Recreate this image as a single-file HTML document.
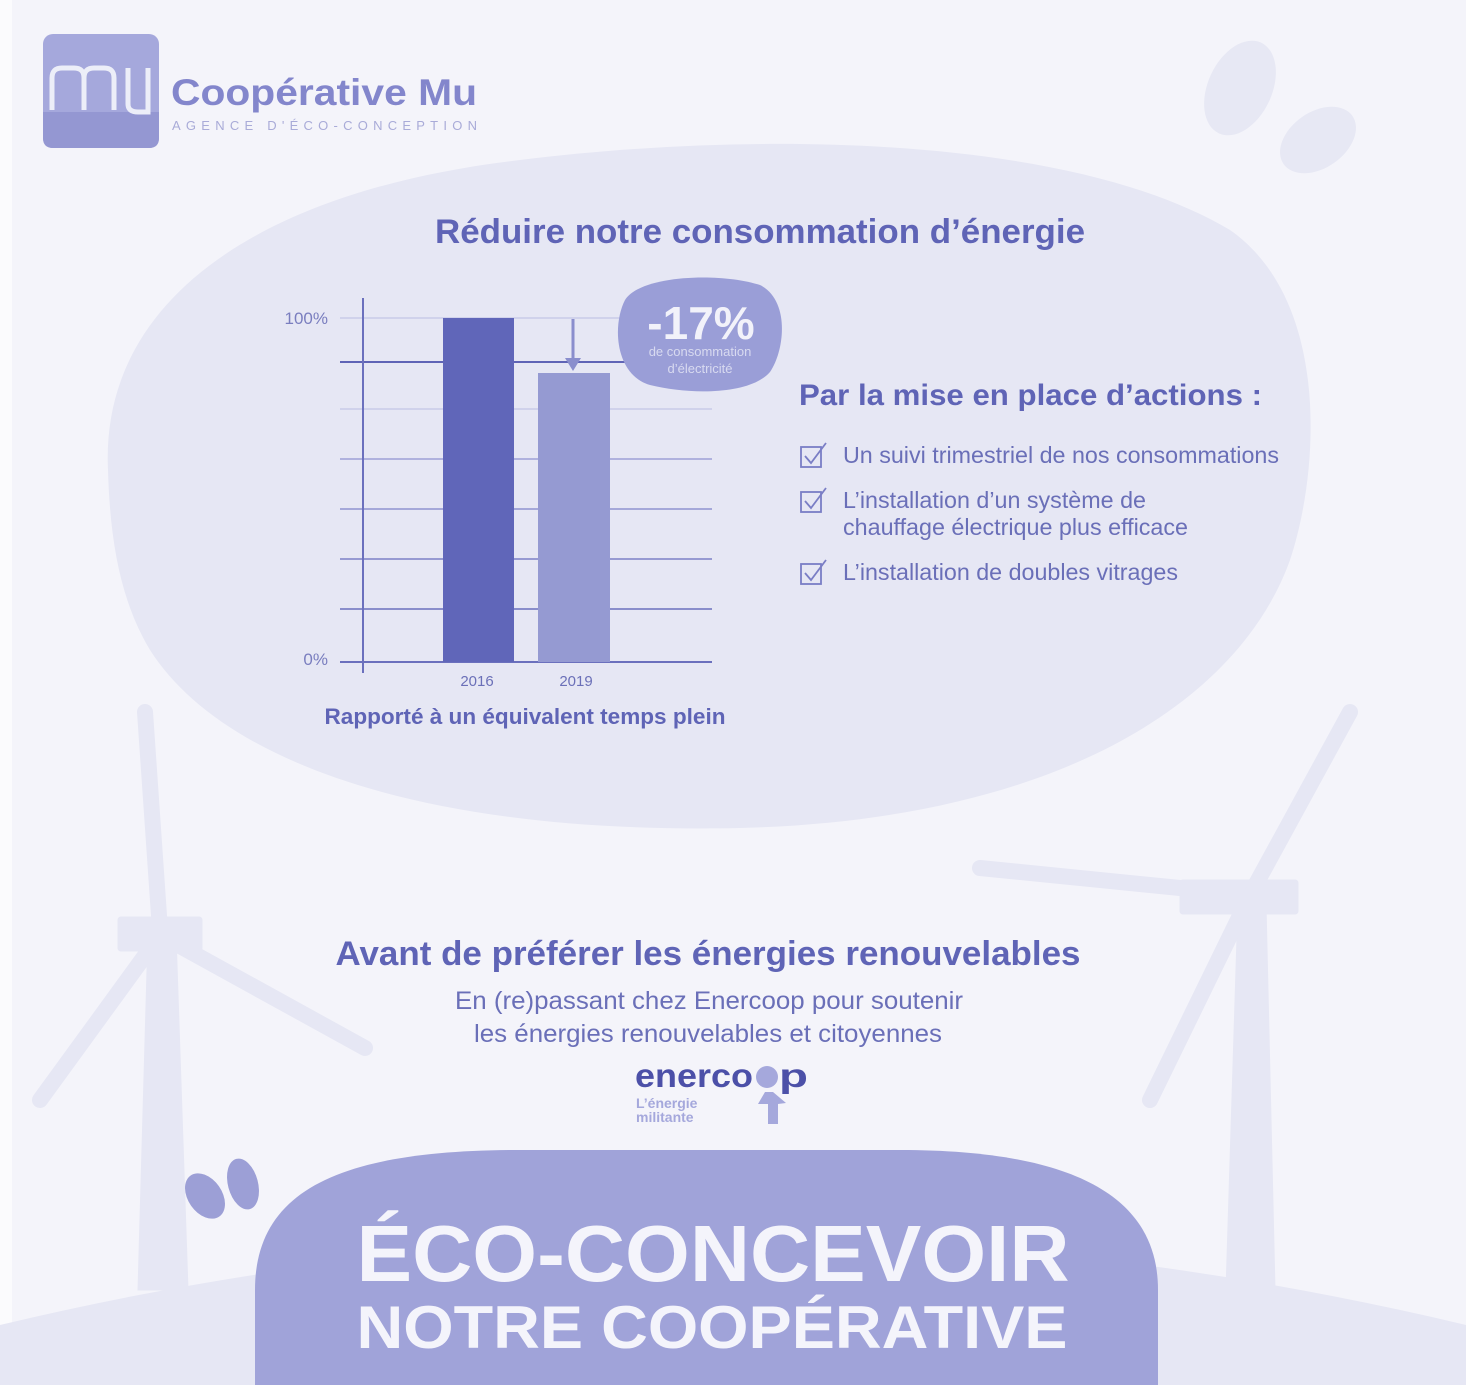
<!DOCTYPE html>
<html><head><meta charset="utf-8"><style>
html,body{margin:0;padding:0;background:#f4f4fa;overflow:hidden;width:1466px;height:1385px;}
svg{display:block;font-family:"Liberation Sans",Arial,sans-serif;}
</style></head><body>
<svg width="1466" height="1385" viewBox="0 0 1466 1385" xmlns="http://www.w3.org/2000/svg">
<rect width="1466" height="1385" fill="#f4f4fa"/>
<rect x="0" y="0" width="12" height="1385" fill="#fbfbfd"/>
<ellipse cx="1240" cy="88" rx="32" ry="50" transform="rotate(25 1240 88)" fill="#e7e8f4"/>
<ellipse cx="1318" cy="140" rx="28" ry="42" transform="rotate(55 1318 140)" fill="#e7e8f4"/>
<g fill="#e6e7f4" stroke="#e6e7f4" stroke-linecap="round">
<polygon points="148,935 176,935 188,1290 138,1290"/>
<rect x="118" y="917" width="84" height="34" rx="3"/>
<line x1="160" y1="930" x2="145" y2="712" stroke-width="16"/>
<line x1="160" y1="935" x2="40" y2="1100" stroke-width="16"/>
<line x1="160" y1="935" x2="365" y2="1048" stroke-width="16"/>
<polygon points="1238,905 1266,905 1275,1290 1226,1290"/>
<rect x="1180" y="880" width="118" height="34" rx="3"/>
<line x1="1250" y1="895" x2="1350" y2="712" stroke-width="16"/>
<line x1="1250" y1="895" x2="980" y2="868" stroke-width="16"/>
<line x1="1250" y1="895" x2="1150" y2="1100" stroke-width="16"/>
</g>
<path d="M0,1325 Q733,1150 1466,1325 L1466,1385 L0,1385 Z" fill="#e6e7f4"/>
<path d="M108,470 C100,300 260,190 520,160 C780,128 1080,140 1230,230 C1330,300 1320,470 1290,560 C1240,700 1060,820 740,828 C420,835 220,760 150,650 C120,600 110,540 108,470 Z" fill="#e6e7f4"/>
<rect x="43" y="34" width="116" height="114" rx="10" fill="#a5a8dc"/>
<path d="M43,112 L159,112 L159,138 Q159,148 149,148 L53,148 Q43,148 43,138 Z" fill="#9497d2"/>
<path d="M52,110 L52,78 Q52,68 62,68 L74,68 Q84,68 84,78 L84,110 M84,78 Q84,68 94,68 L104,68 Q114,68 114,78 L114,110 M128,68 L128,104 Q128,112 138,112 L148,112 L148,68" fill="none" stroke="#eceef8" stroke-width="5"/>
<text x="171" y="105" font-size="37" font-weight="bold" fill="#8386cc" textLength="306" lengthAdjust="spacingAndGlyphs">Coopérative Mu</text>
<text x="172" y="130" font-size="13" fill="#a9abd8" textLength="305" lengthAdjust="spacing">AGENCE D'ÉCO-CONCEPTION</text>
<text x="760" y="243" font-size="34" font-weight="bold" fill="#5f64b6" text-anchor="middle" textLength="650" lengthAdjust="spacingAndGlyphs">Réduire notre consommation d’énergie</text>
<g stroke-width="1.5">
<line x1="340" y1="318" x2="712" y2="318" stroke="#c9cbe8"/>
<line x1="340" y1="362" x2="712" y2="362" stroke="#5f64b6" stroke-width="2"/>
<line x1="340" y1="409" x2="712" y2="409" stroke="#c9cbe8"/>
<line x1="340" y1="459" x2="712" y2="459" stroke="#9da0d6"/>
<line x1="340" y1="509" x2="712" y2="509" stroke="#8f93d0"/>
<line x1="340" y1="559" x2="712" y2="559" stroke="#7d81c7"/>
<line x1="340" y1="609" x2="712" y2="609" stroke="#6b70bd"/>
<line x1="340" y1="662" x2="712" y2="662" stroke="#6b70bd" stroke-width="2"/>
<line x1="363" y1="298" x2="363" y2="673" stroke="#6b70bd" stroke-width="2"/>
</g>
<rect x="443" y="318" width="71" height="344" fill="#6066b9"/>
<rect x="538" y="373" width="72" height="289" fill="#959ad2"/>
<line x1="573" y1="319" x2="573" y2="360" stroke="#8a8ecd" stroke-width="3"/>
<polygon points="565,358 581,358 573,371" fill="#8a8ecd"/>
<text x="328" y="324" font-size="17" fill="#7a7ebf" text-anchor="end">100%</text>
<text x="328" y="665" font-size="17" fill="#7a7ebf" text-anchor="end">0%</text>
<text x="477" y="686" font-size="15" fill="#6b70b8" text-anchor="middle">2016</text>
<text x="576" y="686" font-size="15" fill="#6b70b8" text-anchor="middle">2019</text>
<text x="525" y="724" font-size="22" font-weight="bold" fill="#5f64b6" text-anchor="middle" textLength="401" lengthAdjust="spacingAndGlyphs">Rapporté à un équivalent temps plein</text>
<path d="M625,300 C640,275 720,272 760,285 C790,300 785,350 770,372 C750,395 690,395 650,385 C615,375 612,325 625,300 Z" fill="#9a9ed7"/>
<text x="701" y="339" font-size="46" font-weight="bold" fill="#f2f2fa" text-anchor="middle">-17%</text>
<text x="700" y="356" font-size="13" fill="#d8daf0" text-anchor="middle">de consommation</text>
<text x="700" y="373" font-size="13" fill="#d8daf0" text-anchor="middle">d’électricité</text>
<text x="799" y="405" font-size="30" font-weight="bold" fill="#5f64b6" textLength="463" lengthAdjust="spacingAndGlyphs">Par la mise en place d’actions :</text>
<g fill="none" stroke="#7a7ec5" stroke-width="1.8">
<rect x="801" y="447" width="20" height="20"/><path d="M805,456 L811,463 L826,443"/>
<rect x="801" y="492" width="20" height="20"/><path d="M805,501 L811,508 L826,488"/>
<rect x="801" y="564" width="20" height="20"/><path d="M805,573 L811,580 L826,560"/>
</g>
<g font-size="23" fill="#6a6fb8">
<text x="843" y="463" textLength="436" lengthAdjust="spacingAndGlyphs">Un suivi trimestriel de nos consommations</text>
<text x="843" y="508" textLength="303" lengthAdjust="spacingAndGlyphs">L’installation d’un système de</text>
<text x="843" y="535" textLength="345" lengthAdjust="spacingAndGlyphs">chauffage électrique plus efficace</text>
<text x="843" y="580" textLength="335" lengthAdjust="spacingAndGlyphs">L’installation de doubles vitrages</text>
</g>
<text x="708" y="965" font-size="34" font-weight="bold" fill="#5f64b6" text-anchor="middle" textLength="745" lengthAdjust="spacingAndGlyphs">Avant de préférer les énergies renouvelables</text>
<text x="709" y="1009" font-size="25" fill="#6a6fb8" text-anchor="middle" textLength="508" lengthAdjust="spacingAndGlyphs">En (re)passant chez Enercoop pour soutenir</text>
<text x="708" y="1042" font-size="25" fill="#6a6fb8" text-anchor="middle" textLength="468" lengthAdjust="spacingAndGlyphs">les énergies renouvelables et citoyennes</text>
<text x="635" y="1087" font-size="33" font-weight="bold" fill="#4c50a8" textLength="118" lengthAdjust="spacingAndGlyphs">enerco</text>
<circle cx="767" cy="1077" r="11" fill="#a5a8dc"/>
<text x="779" y="1087" font-size="33" font-weight="bold" fill="#4c50a8" textLength="29" lengthAdjust="spacingAndGlyphs">p</text>
<polygon points="765,1092 773,1092 786,1103 778,1104 778,1124 768,1124 768,1104 758,1104" fill="#a5a8dc"/>
<text x="636" y="1108" font-size="14" font-weight="bold" fill="#a5a8dc">L’énergie</text>
<text x="636" y="1122" font-size="14" font-weight="bold" fill="#a5a8dc">militante</text>
<ellipse cx="205" cy="1196" rx="17" ry="25" transform="rotate(-35 205 1196)" fill="#9c9fd6"/>
<ellipse cx="243" cy="1184" rx="15" ry="26" transform="rotate(-15 243 1184)" fill="#9c9fd6"/>
<path d="M255,1290 C255,1190 340,1150 520,1150 L900,1150 C1080,1150 1158,1200 1158,1290 L1158,1385 L255,1385 Z" fill="#a0a3d9"/>
<text x="713" y="1281" font-size="80" font-weight="bold" fill="#f4f4fb" text-anchor="middle" textLength="713" lengthAdjust="spacingAndGlyphs">ÉCO-CONCEVOIR</text>
<text x="712" y="1348" font-size="60" font-weight="bold" fill="#f4f4fb" text-anchor="middle" textLength="711" lengthAdjust="spacingAndGlyphs">NOTRE COOPÉRATIVE</text>
</svg>
</body></html>
